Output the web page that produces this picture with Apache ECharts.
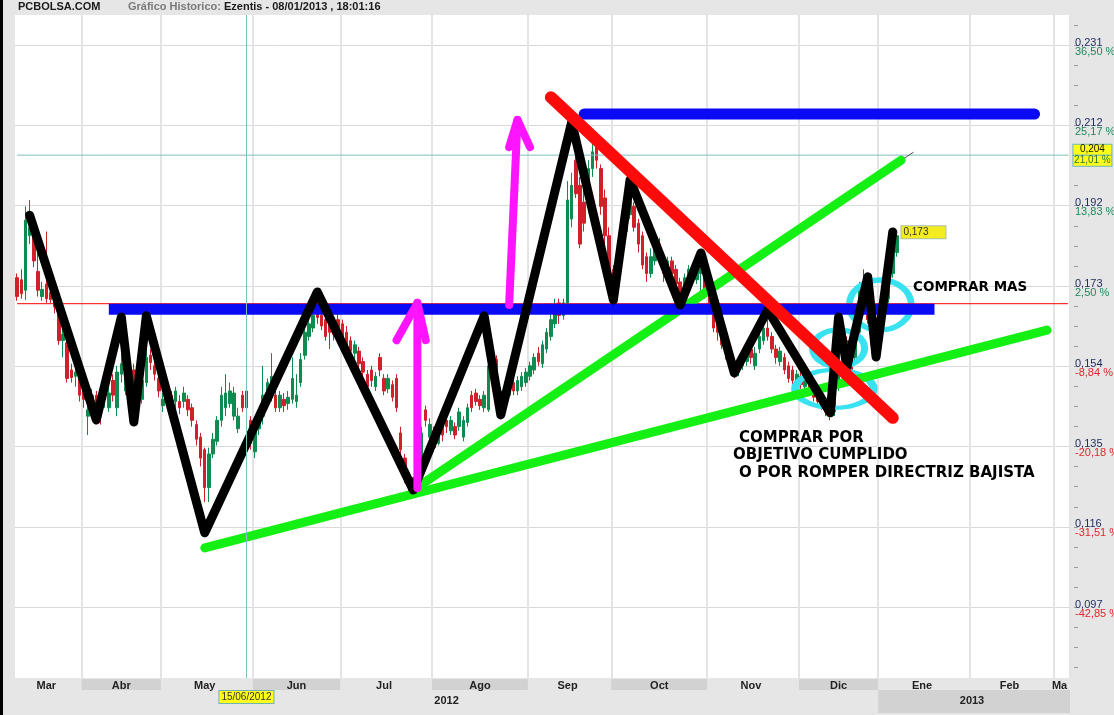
<!DOCTYPE html>
<html>
<head>
<meta charset="utf-8">
<title>Ezentis - Gráfico Historico</title>
<script src="https://cdn.jsdelivr.net/npm/echarts@6/dist/echarts.min.js"></script>
<style>
  html, body { margin: 0; padding: 0; background: #e6e6e6; overflow: hidden; }
  #wrap { width: 1111px; height: 715px; border-left: 3px solid #000; }
  #chart { width: 1111px; height: 715px; }
</style>
</head>
<body>
<div id="wrap"><div id="chart"></div></div>
<script>
// trading sessions on the x axis
const firstDay = '2012-03-09'
const lastDay = '2013-03-06'
const holidays = ['2012-04-06', '2012-04-09', '2012-05-01', '2012-12-25', '2012-12-26', '2013-01-01']
const monthNames = ['Ene', 'Feb', 'Mar', 'Abr', 'May', 'Jun', 'Jul', 'Ago', 'Sep', 'Oct', 'Nov', 'Dic']

// right axis: price labels and % change against the reference price
const basePrice = 0.1688
const tickPct = [36.50, 25.17, 13.83, 2.50, -8.84, -20.18, -31.51, -42.85]
const tickPrice = ['0,231', '0,212', '0,192', '0,173', '0,154', '0,135', '0,116', '0,097']
const tickPctText = ['36,50 %', '25,17 %', '13,83 %', '2,50 %', '-8,84 %', '-20,18 %', '-31,51 %', '-42,85 %']

// crosshair
const crossDate = '2012-05-30'
const crossDateText = '15/06/2012'
const crossPrice = 0.2042
const crossPriceText = '0,204'
const crossPctText = '21,01 %'
const lastPriceText = '0,173'
const lastPriceAt = 0.1858

// daily candles, one per session from 2012-03-09: [open, close, low, high]
const candles = [
  // Mar
  [0.1750, 0.1705, 0.1695, 0.1760], [0.1745, 0.1712, 0.1700, 0.1770], [0.1720, 0.1887, 0.1697, 0.1920], [0.1850, 0.1870, 0.1830, 0.1935],
  [0.1860, 0.1790, 0.1775, 0.1880], [0.1765, 0.1720, 0.1705, 0.1860], [0.1705, 0.1722, 0.1695, 0.1740], [0.1735, 0.1700, 0.1690, 0.1860],
  [0.1715, 0.1698, 0.1690, 0.1730], [0.1700, 0.1680, 0.1665, 0.1712], [0.1670, 0.1600, 0.1590, 0.1690], [0.1600, 0.1615, 0.1560, 0.1650],
  [0.1595, 0.1510, 0.1500, 0.1620], [0.1530, 0.1512, 0.1500, 0.1545], [0.1515, 0.1525, 0.1490, 0.1545], [0.1515, 0.1470, 0.1455, 0.1530],
  // Abr
  [0.1485, 0.1460, 0.1440, 0.1500], [0.1420, 0.1435, 0.1375, 0.1450], [0.1440, 0.1470, 0.1420, 0.1485], [0.1470, 0.1440, 0.1410, 0.1480],
  [0.1450, 0.1420, 0.1400, 0.1470], [0.1460, 0.1485, 0.1440, 0.1500], [0.1440, 0.1475, 0.1430, 0.1490], [0.1505, 0.1470, 0.1455, 0.1520],
  [0.1440, 0.1525, 0.1420, 0.1540], [0.1520, 0.1545, 0.1500, 0.1570], [0.1480, 0.1535, 0.1470, 0.1560], [0.1520, 0.1480, 0.1470, 0.1535],
  [0.1530, 0.1495, 0.1480, 0.1545], [0.1495, 0.1470, 0.1455, 0.1510], [0.1460, 0.1505, 0.1450, 0.1520], [0.1500, 0.1560, 0.1490, 0.1600],
  [0.1565, 0.1548, 0.1530, 0.1580], [0.1540, 0.1520, 0.1505, 0.1555], [0.1510, 0.1480, 0.1465, 0.1525],
  // May
  [0.1445, 0.1460, 0.1430, 0.1475], [0.1495, 0.1470, 0.1450, 0.1510], [0.1470, 0.1445, 0.1430, 0.1480], [0.1455, 0.1480, 0.1440, 0.1490],
  [0.1455, 0.1440, 0.1425, 0.1470], [0.1455, 0.1475, 0.1440, 0.1490], [0.1460, 0.1435, 0.1420, 0.1470], [0.1440, 0.1410, 0.1395, 0.1450],
  [0.1400, 0.1365, 0.1350, 0.1410], [0.1370, 0.1320, 0.1300, 0.1380], [0.1340, 0.1250, 0.1215, 0.1345], [0.1250, 0.1330, 0.1215, 0.1345],
  [0.1330, 0.1365, 0.1320, 0.1380], [0.1360, 0.1410, 0.1350, 0.1420], [0.1410, 0.1470, 0.1395, 0.1490], [0.1440, 0.1475, 0.1420, 0.1520],
  [0.1450, 0.1480, 0.1440, 0.1500], [0.1420, 0.1475, 0.1410, 0.1490], [0.1390, 0.1420, 0.1380, 0.1440], [0.1470, 0.1440, 0.1430, 0.1480],
  [0.1480, 0.1440, 0.1420, 0.1490], [0.1410, 0.1355, 0.1340, 0.1420],
  // Jun
  [0.1335, 0.1385, 0.1320, 0.1395], [0.1390, 0.1415, 0.1375, 0.1430], [0.1420, 0.1470, 0.1400, 0.1540], [0.1450, 0.1500, 0.1440, 0.1510],
  [0.1470, 0.1515, 0.1455, 0.1570], [0.1470, 0.1440, 0.1430, 0.1485], [0.1440, 0.1470, 0.1430, 0.1480], [0.1460, 0.1445, 0.1430, 0.1475],
  [0.1450, 0.1465, 0.1435, 0.1480], [0.1460, 0.1510, 0.1450, 0.1560], [0.1455, 0.1470, 0.1440, 0.1520], [0.1500, 0.1555, 0.1490, 0.1570],
  [0.1565, 0.1620, 0.1555, 0.1630], [0.1610, 0.1640, 0.1600, 0.1660], [0.1630, 0.1660, 0.1620, 0.1680], [0.1675, 0.1655, 0.1640, 0.1700],
  [0.1660, 0.1635, 0.1625, 0.1680], [0.1650, 0.1610, 0.1600, 0.1660], [0.1645, 0.1620, 0.1580, 0.1665], [0.1635, 0.1615, 0.1600, 0.1650],
  [0.1650, 0.1620, 0.1610, 0.1665],
  // Jul
  [0.1640, 0.1610, 0.1600, 0.1650], [0.1620, 0.1590, 0.1575, 0.1635], [0.1600, 0.1575, 0.1560, 0.1610], [0.1570, 0.1590, 0.1555, 0.1600],
  [0.1575, 0.1545, 0.1535, 0.1585], [0.1550, 0.1525, 0.1510, 0.1560], [0.1520, 0.1490, 0.1480, 0.1530], [0.1530, 0.1505, 0.1490, 0.1540],
  [0.1490, 0.1515, 0.1480, 0.1525], [0.1560, 0.1530, 0.1515, 0.1570], [0.1510, 0.1480, 0.1470, 0.1520], [0.1485, 0.1510, 0.1475, 0.1520],
  [0.1495, 0.1465, 0.1455, 0.1505], [0.1510, 0.1440, 0.1430, 0.1520], [0.1380, 0.1340, 0.1320, 0.1395], [0.1320, 0.1290, 0.1260, 0.1330],
  [0.1280, 0.1255, 0.1235, 0.1290], [0.1260, 0.1240, 0.1232, 0.1275], [0.1245, 0.1290, 0.1235, 0.1300], [0.1320, 0.1380, 0.1300, 0.1395],
  [0.1435, 0.1410, 0.1395, 0.1445], [0.1370, 0.1400, 0.1360, 0.1415],
  // Ago
  [0.1385, 0.1345, 0.1335, 0.1395], [0.1355, 0.1390, 0.1350, 0.1400], [0.1400, 0.1375, 0.1360, 0.1410], [0.1410, 0.1395, 0.1380, 0.1420],
  [0.1385, 0.1410, 0.1375, 0.1420], [0.1395, 0.1375, 0.1365, 0.1405], [0.1395, 0.1430, 0.1385, 0.1440], [0.1370, 0.1410, 0.1360, 0.1420],
  [0.1405, 0.1440, 0.1395, 0.1450], [0.1470, 0.1440, 0.1430, 0.1480], [0.1475, 0.1455, 0.1445, 0.1485], [0.1460, 0.1445, 0.1435, 0.1470],
  [0.1440, 0.1470, 0.1430, 0.1480], [0.1435, 0.1540, 0.1430, 0.1550], [0.1560, 0.1535, 0.1520, 0.1570], [0.1555, 0.1530, 0.1520, 0.1565],
  [0.1460, 0.1480, 0.1450, 0.1490], [0.1460, 0.1480, 0.1450, 0.1495], [0.1470, 0.1495, 0.1460, 0.1505], [0.1500, 0.1480, 0.1470, 0.1510],
  [0.1480, 0.1505, 0.1470, 0.1515], [0.1490, 0.1515, 0.1480, 0.1525], [0.1500, 0.1525, 0.1490, 0.1535],
  // Sep
  [0.1515, 0.1540, 0.1505, 0.1550], [0.1530, 0.1560, 0.1520, 0.1570], [0.1570, 0.1550, 0.1540, 0.1585], [0.1545, 0.1590, 0.1535, 0.1600],
  [0.1580, 0.1620, 0.1570, 0.1630], [0.1610, 0.1650, 0.1600, 0.1680], [0.1640, 0.1680, 0.1630, 0.1700], [0.1690, 0.1660, 0.1640, 0.1700],
  [0.1660, 0.1690, 0.1650, 0.1700], [0.1690, 0.1935, 0.1680, 0.1980], [0.1890, 0.1970, 0.1870, 0.2000], [0.2030, 0.1950, 0.1940, 0.2050],
  [0.1970, 0.1830, 0.1820, 0.1990], [0.1930, 0.1880, 0.1860, 0.1960], [0.1940, 0.2010, 0.1930, 0.2030], [0.2010, 0.2050, 0.1990, 0.2090],
  [0.2070, 0.2030, 0.2010, 0.2090], [0.2010, 0.1920, 0.1900, 0.2020], [0.1940, 0.1850, 0.1830, 0.1960], [0.1850, 0.1760, 0.1740, 0.1870],
  // Oct
  [0.1770, 0.1720, 0.1700, 0.1780], [0.1730, 0.1800, 0.1720, 0.1810], [0.1800, 0.1860, 0.1790, 0.1870], [0.1860, 0.1910, 0.1850, 0.1930],
  [0.1900, 0.1940, 0.1890, 0.1975], [0.1920, 0.1870, 0.1860, 0.1930], [0.1880, 0.1830, 0.1810, 0.1890], [0.1850, 0.1780, 0.1770, 0.1860],
  [0.1800, 0.1760, 0.1740, 0.1810], [0.1760, 0.1800, 0.1750, 0.1820], [0.1790, 0.1830, 0.1780, 0.1840], [0.1830, 0.1790, 0.1780, 0.1845],
  [0.1800, 0.1760, 0.1740, 0.1810], [0.1755, 0.1790, 0.1745, 0.1800], [0.1790, 0.1760, 0.1750, 0.1800], [0.1770, 0.1735, 0.1720, 0.1780],
  [0.1740, 0.1705, 0.1690, 0.1750], [0.1715, 0.1750, 0.1705, 0.1760], [0.1740, 0.1770, 0.1730, 0.1780], [0.1770, 0.1745, 0.1735, 0.1780],
  [0.1745, 0.1775, 0.1735, 0.1790], [0.1760, 0.1800, 0.1700, 0.1810], [0.1790, 0.1710, 0.1700, 0.1800],
  // Nov
  [0.1710, 0.1680, 0.1670, 0.1720], [0.1680, 0.1630, 0.1620, 0.1690], [0.1660, 0.1620, 0.1600, 0.1670], [0.1640, 0.1590, 0.1580, 0.1650],
  [0.1600, 0.1570, 0.1555, 0.1610], [0.1570, 0.1540, 0.1530, 0.1580], [0.1545, 0.1525, 0.1510, 0.1555], [0.1525, 0.1545, 0.1515, 0.1555],
  [0.1540, 0.1560, 0.1530, 0.1570], [0.1550, 0.1580, 0.1540, 0.1590], [0.1580, 0.1560, 0.1545, 0.1590], [0.1540, 0.1570, 0.1530, 0.1585],
  [0.1580, 0.1610, 0.1570, 0.1620], [0.1600, 0.1630, 0.1590, 0.1640], [0.1630, 0.1610, 0.1600, 0.1650], [0.1610, 0.1580, 0.1570, 0.1620],
  [0.1580, 0.1560, 0.1545, 0.1590], [0.1550, 0.1575, 0.1540, 0.1585], [0.1560, 0.1530, 0.1520, 0.1570], [0.1540, 0.1510, 0.1500, 0.1550],
  [0.1530, 0.1505, 0.1495, 0.1540], [0.1500, 0.1520, 0.1490, 0.1530],
  // Dic
  [0.1515, 0.1495, 0.1485, 0.1525], [0.1490, 0.1520, 0.1480, 0.1530], [0.1510, 0.1480, 0.1470, 0.1520], [0.1485, 0.1465, 0.1455, 0.1495],
  [0.1475, 0.1455, 0.1445, 0.1485], [0.1465, 0.1445, 0.1435, 0.1475], [0.1450, 0.1430, 0.1420, 0.1460], [0.1440, 0.1425, 0.1410, 0.1450],
  [0.1430, 0.1490, 0.1420, 0.1500], [0.1490, 0.1580, 0.1480, 0.1600], [0.1570, 0.1610, 0.1555, 0.1620], [0.1600, 0.1555, 0.1540, 0.1610],
  [0.1570, 0.1530, 0.1520, 0.1580], [0.1560, 0.1620, 0.1550, 0.1630], [0.1620, 0.1720, 0.1610, 0.1740], [0.1740, 0.1700, 0.1690, 0.1770],
  [0.1710, 0.1650, 0.1640, 0.1720], [0.1640, 0.1590, 0.1570, 0.1650], [0.1590, 0.1630, 0.1580, 0.1640],
  // Ene 2013
  [0.1620, 0.1660, 0.1610, 0.1680], [0.1660, 0.1700, 0.1650, 0.1720], [0.1700, 0.1760, 0.1690, 0.1780], [0.1760, 0.1820, 0.1750, 0.1840],
  [0.1810, 0.1850, 0.1800, 0.1860]
]

// hand-drawn analysis, points as [session, price]
const blackZigzag = [
  ['2012-03-14', 0.1899], ['2012-04-05', 0.1411], ['2012-04-17', 0.1656], ['2012-04-20', 0.1406],
  ['2012-04-25', 0.1659], ['2012-05-16', 0.1142], ['2012-06-22', 0.1716], ['2012-07-25', 0.1244],
  ['2012-08-17', 0.1659], ['2012-08-23', 0.1423], ['2012-09-17', 0.2121], ['2012-10-01', 0.1697],
  ['2012-10-05', 0.1983], ['2012-10-23', 0.1685], ['2012-10-30', 0.1809], ['2012-11-09', 0.1523],
  ['2012-11-21', 0.1673], ['2012-12-12', 0.1428], ['2012-12-14', 0.1656], ['2012-12-18', 0.1537],
  ['2012-12-27', 0.1752], ['2012-12-31', 0.1561], ['2013-01-07', 0.1859]
]
const greenLower = [['2012-05-16', 0.1106], ['2013-02-27', 0.1625]]
const greenUpper = [['2012-07-25', 0.1244], ['2013-01-09', 0.2030]]
const guideTail = [['2013-01-09', 0.2030], ['2013-01-14', 0.2049]]
const blueLower = [['2012-04-12', 0.1675], ['2013-01-21', 0.1675]]
const blueUpper = [['2012-09-20', 0.2140], ['2013-02-22', 0.2140]]
const redTrend = [['2012-09-10', 0.2180], ['2013-01-07', 0.1416]]
const arrowLowShaft = [['2012-07-26', 0.1249], ['2012-07-26', 0.1690]]
const arrowLowHead = [['2012-07-19', 0.1601], ['2012-07-26', 0.1690], ['2012-07-30', 0.1601]]
const arrowHighShaft = [['2012-08-27', 0.1685], ['2012-08-29', 0.2126]]
const arrowHighHead = [['2012-08-27', 0.2061], ['2012-08-29', 0.2126], ['2012-09-03', 0.2061]]
const ringCentres = [['2012-12-13', 0.1485], ['2012-12-14', 0.1582], ['2013-01-02', 0.1685]]
const ringSizes = [[78, 38], [52, 37], [62, 50]]

// build the session list (weekdays minus market holidays)
const dates = []
for (let t = Date.parse(firstDay); t <= Date.parse(lastDay); t += 86400000) {
  const d = new Date(t)
  const s = d.toISOString().slice(0, 10)
  if (d.getUTCDay() !== 0 && d.getUTCDay() !== 6 && holidays.indexOf(s) < 0) dates.push(s)
}
const firstSession = dates[0]
const lastSession = dates[dates.length - 1]

// month / year groups for the bottom axis strips
const monthStart = new Set()
const monthBox = new Set()
const monthMid = {}
const yearStart = new Set()
const yearMid = {}
const byMonth = {}
const byYear = {}
dates.forEach((d, i) => {
  (byMonth[d.slice(0, 7)] = byMonth[d.slice(0, 7)] || []).push(i);
  (byYear[d.slice(0, 4)] = byYear[d.slice(0, 4)] || []).push(i)
})
Object.keys(byMonth).forEach(m => {
  const idx = byMonth[m]
  const name = monthNames[+m.slice(5) - 1]
  monthStart.add(idx[0])
  if (m <= '2013-01') monthBox.add(idx[0])
  monthMid[Math.floor((idx[0] + idx[idx.length - 1]) / 2)] = idx.length < 5 ? name.slice(0, 2) : name
})
Object.keys(byYear).forEach(y => {
  const idx = byYear[y]
  yearStart.add(idx[0])
  yearMid[Math.floor((idx[0] + idx[idx.length - 1]) / 2)] = y
})

const tickValues = tickPct.map(p => basePrice * (1 + p / 100))
const tickStep = basePrice * 0.11335
const yMin = 0.0796
const yMax = 0.2376
const minorTicks = []
for (let k = -24; k <= 20; k++) {
  const v = tickValues[3] + k * tickStep / 4
  if (v > yMin && v < yMax) minorTicks.push(v)
}

const stroke = (data, color, width, cap) => ({
  type: 'line', xAxisIndex: 0, yAxisIndex: 0, data: data, symbol: 'none', silent: true,
  lineStyle: { color: color, width: width, cap: cap || 'round', join: 'round' }
})

const boxLabel = { fontSize: 10, color: '#111', backgroundColor: '#ffff1a', borderColor: '#6fb3b3', borderWidth: 1 }
const crossColor = '#7fbfbf'

const chart = echarts.init(document.getElementById('chart'))

const option = {
  animation: false,
  textStyle: { fontFamily: '"Liberation Sans", Arial, sans-serif' },
  title: {
    left: 15, top: 1, padding: 0,
    text: '{a|PCBOLSA.COM}{b|Gráfico Historico: }{c|Ezentis - 08/01/2013 , 18:01:16}',
    textStyle: {
      rich: {
        a: { fontSize: 11, fontWeight: 'bold', color: '#1a1a1a', width: 110, lineHeight: 12 },
        b: { fontSize: 11, color: '#7a7a7a', lineHeight: 12 },
        c: { fontSize: 11, fontWeight: 'bold', color: '#1a1a1a', lineHeight: 12 }
      }
    }
  },
  grid: [
    { left: 12, right: 44, top: 15, bottom: 37, show: true, backgroundColor: '#ffffff', borderWidth: 0, outerBoundsMode: 'none' },
    { left: 12, right: 44, top: 679, height: 11, outerBoundsMode: 'none' },
    { left: 12, right: 44, top: 690, height: 23, outerBoundsMode: 'none' }
  ],
  xAxis: [
    {
      type: 'category', gridIndex: 0, data: dates,
      axisLine: { show: false }, axisTick: { show: false }, axisLabel: { show: false },
      splitLine: { show: true, interval: i => i > 0 && monthStart.has(i), lineStyle: { color: '#e4e4e4', width: 2 } }
    },
    {
      type: 'category', gridIndex: 1, data: dates,
      axisLine: { show: false }, axisTick: { show: false },
      axisLabel: {
        interval: i => i in monthMid, formatter: (v, i) => monthMid[i],
        margin: -10, fontSize: 11, fontWeight: 'bold', color: '#222'
      },
      splitArea: { show: true, interval: i => monthBox.has(i), areaStyle: { color: ['rgba(0,0,0,0)', '#d2d2d2'] } }
    },
    {
      type: 'category', gridIndex: 2, data: dates,
      axisLine: { show: false }, axisTick: { show: false },
      axisLabel: {
        interval: i => i in yearMid, formatter: (v, i) => yearMid[i],
        margin: -18, fontSize: 11, fontWeight: 'bold', color: '#222'
      },
      splitArea: { show: true, interval: i => yearStart.has(i), areaStyle: { color: ['rgba(0,0,0,0)', '#d2d2d2'] } }
    }
  ],
  yAxis: [
    {
      type: 'value', gridIndex: 0, position: 'right', min: yMin, max: yMax,
      axisLine: { show: false },
      axisTick: { show: false, customValues: tickValues },
      splitLine: { show: true, lineStyle: { color: '#d9d9d9' } },
      axisLabel: {
        customValues: tickValues, margin: 5, padding: [4, 0, 0, 0],
        formatter: v => {
          let k = 0
          tickValues.forEach((t, j) => { if (Math.abs(t - v) < Math.abs(tickValues[k] - v)) k = j })
          return '{p|' + tickPrice[k] + '}\n{' + (tickPct[k] >= 0 ? 'g' : 'r') + '|' + tickPctText[k] + '}'
        },
        rich: {
          p: { fontSize: 11, color: '#1b2a5e', lineHeight: 9 },
          g: { fontSize: 11, color: '#1f8a5a', lineHeight: 9 },
          r: { fontSize: 11, color: '#e3262c', lineHeight: 9 }
        }
      }
    },
    {
      type: 'value', gridIndex: 0, position: 'right', offset: 4, min: yMin, max: yMax,
      axisLine: { show: false }, axisLabel: { show: false }, splitLine: { show: false },
      axisTick: { show: true, customValues: minorTicks, length: 4, lineStyle: { color: '#9a9a9a' } }
    },
    { type: 'value', gridIndex: 1, show: false },
    { type: 'value', gridIndex: 2, show: false }
  ],
  series: [
    {
      type: 'candlestick', xAxisIndex: 0, yAxisIndex: 0, data: candles, barWidth: 3, silent: true,
      itemStyle: { color: '#0e8c50', color0: '#d0202a', borderColor: '#0e8c50', borderColor0: '#d0202a', borderWidth: 1 }
    },
    // reference price (0 %) line
    stroke([[firstSession, basePrice], [lastSession, basePrice]], '#ff0000', 1, 'butt'),
    // horizontal crosshair with its value boxes on the right axis
    Object.assign(stroke([[firstSession, crossPrice], [lastSession, crossPrice]], crossColor, 1, 'butt'), {
      markPoint: {
        silent: true, animation: false,
        data: [{
          coord: [lastSession, crossPrice], symbol: 'rect', symbolSize: 1,
          label: {
            show: true, position: 'right', distance: 5,
            formatter: '{a|' + crossPriceText + '}\n{b|' + crossPctText + '}',
            rich: {
              a: Object.assign({}, boxLabel, { width: 38, align: 'center', lineHeight: 11 }),
              b: Object.assign({}, boxLabel, { color: '#1f7a40', width: 38, align: 'center', lineHeight: 11 })
            }
          }
        }]
      }
    }),
    // vertical crosshair with its date box, plus the last-price box
    Object.assign(stroke(guideTail, '#555555', 1, 'butt'), {
      markLine: {
        silent: true, symbol: 'none', animation: false,
        lineStyle: { color: crossColor, width: 1, type: 'solid' },
        data: [{
          xAxis: crossDate,
          label: Object.assign({}, boxLabel, {
            show: true, position: 'start', distance: 13, formatter: crossDateText, color: '#333', padding: [1, 2]
          })
        }]
      },
      markPoint: {
        silent: true, animation: false,
        data: [{
          coord: [dates[candles.length - 1], lastPriceAt], symbol: 'rect', symbolSize: 1,
          label: {
            show: true, position: 'right', distance: 4, formatter: lastPriceText,
            fontSize: 10, color: '#333', backgroundColor: '#f2ec20', borderColor: '#a8c0b0', borderWidth: 1,
            width: 40, padding: [1, 2]
          }
        }]
      }
    }),
    stroke(greenLower, '#14f014', 9),
    stroke(greenUpper, '#14f014', 9),
    stroke(blueLower, '#0a0af5', 11, 'butt'),
    stroke(blueUpper, '#0a0af5', 11),
    {
      type: 'scatter', xAxisIndex: 0, yAxisIndex: 0, silent: true, symbol: 'circle',
      data: ringCentres.map((c, i) => ({ value: c, symbolSize: ringSizes[i] })),
      itemStyle: { color: 'rgba(0,0,0,0)', borderColor: '#38e2f0', borderWidth: 6, opacity: 1 }
    },
    stroke(blackZigzag, '#000000', 9),
    stroke(redTrend, '#ff0a0a', 12),
    stroke(arrowLowShaft, '#ff14ff', 8),
    stroke(arrowLowHead, '#ff14ff', 8),
    stroke(arrowHighShaft, '#ff14ff', 8),
    stroke(arrowHighHead, '#ff14ff', 8)
  ],
  graphic: [
    { type: 'text', x: 910, y: 287, z: 100, silent: true, style: { text: 'COMPRAR MAS', font: 'bold 13.5px "DejaVu Sans"', fill: '#000', verticalAlign: 'middle' } },
    { type: 'text', x: 736, y: 438, z: 100, silent: true, style: { text: 'COMPRAR POR', font: 'bold 15px "DejaVu Sans"', fill: '#000', verticalAlign: 'middle' } },
    { type: 'text', x: 730, y: 455, z: 100, silent: true, style: { text: 'OBJETIVO CUMPLIDO', font: 'bold 15px "DejaVu Sans"', fill: '#000', verticalAlign: 'middle' } },
    { type: 'text', x: 736, y: 473, z: 100, silent: true, style: { text: 'O POR ROMPER DIRECTRIZ BAJISTA', font: 'bold 15px "DejaVu Sans"', fill: '#000', verticalAlign: 'middle' } }
  ]
}

chart.setOption(option)
</script>
</body>
</html>
